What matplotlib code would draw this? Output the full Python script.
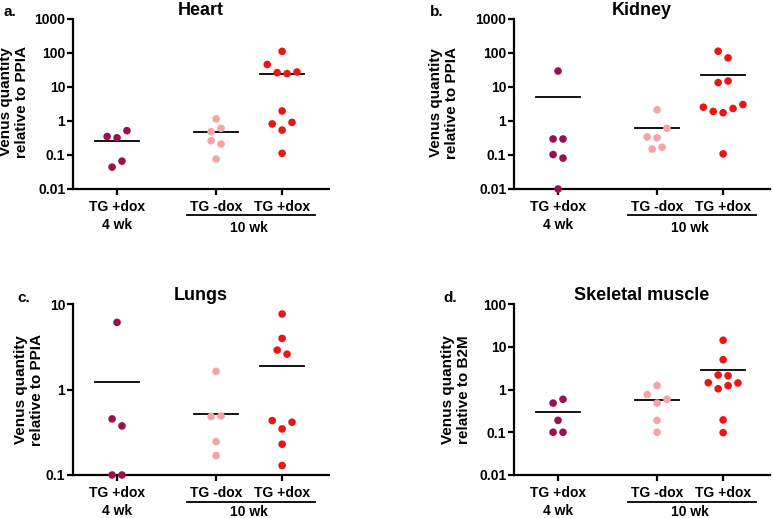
#!/usr/bin/env python3
# -*- coding: utf-8 -*-

import numpy as np
import matplotlib
matplotlib.use("Agg")
import matplotlib.pyplot as plt
from matplotlib.transforms import blended_transform_factory

plt.rcParams['font.family'] = ['Liberation Sans', 'DejaVu Sans']
plt.rcParams['font.weight'] = 'bold'

# each group: rows of points that sit side by side (left to right)
HEART_4WK = [[0.35, 0.32, 0.52], [0.044, 0.066]]
HEART_MINUS = [[1.15], [0.485, 0.61], [0.264, 0.21], [0.076]]
HEART_PLUS = [[112], [46, 26.4, 24.7, 27.6], [1.97], [0.82, 0.54, 0.91], [0.112]]
HEART_MEANS = [0.25, 0.47, 24.1]

KIDNEY_4WK = [[29.5], [0.296, 0.296], [0.103, 0.081], [0.01]]
KIDNEY_MINUS = [[2.14], [0.34, 0.32, 0.61], [0.15, 0.17]]
KIDNEY_PLUS = [[113, 72], [13.5, 15], [2.55, 1.91, 1.75, 2.33, 3.05], [0.108]]
KIDNEY_MEANS = [5.1, 0.63, 23.0]

LUNGS_4WK = [[6.1], [0.453, 0.375], [0.1, 0.1]]
LUNGS_MINUS = [[1.63], [0.483, 0.49], [0.246], [0.169]]
LUNGS_PLUS = [[7.64], [3.96], [2.89, 2.59], [0.433, 0.346, 0.414], [0.229], [0.129]]
LUNGS_MEANS = [1.21, 0.515, 1.86]

MUSCLE_4WK = [[0.48, 0.59], [0.19], [0.1, 0.1]]
MUSCLE_MINUS = [[1.24], [0.76, 0.48, 0.59], [0.19], [0.1]]
MUSCLE_PLUS = [[14.2], [4.98], [2.18, 2.1], [1.44, 1.04, 1.23, 1.42], [0.194], [0.098]]
MUSCLE_MEANS = [0.29, 0.57, 2.91]

CATEGORIES = ["TG +dox", "TG -dox", "TG +dox"]
XPOS = [0.0, 1.5, 2.5]
AGES = ["4 wk", "10 wk"]

TICKS_WIDE = [0.01, 0.1, 1, 10, 100, 1000]
TICKS_LUNGS = [0.1, 1, 10]
TICKS_MUSCLE = [0.01, 0.1, 1, 10, 100]

COLORS = ["#9a1050", "#f6a3a5", "#ef1414"]

TICKLBLSIZE = 10
AXISLBLSIZE = 11
TITLESIZE = 13

W, H = 773, 518


def px_axes(fig, left, top, right, bottom):
    return fig.add_axes([left / W, 1 - bottom / H, (right - left) / W, (bottom - top) / H])


def draw_panel(ax, groups, means, ticks, title, wk_y=-0.23):
    step = 0.15
    for x0, rows, mean, col in zip(XPOS, groups, means, COLORS):
        xs, ys = [], []
        for row in rows:
            n = len(row)
            for i, v in enumerate(row):
                xs.append(x0 + (i - (n - 1) / 2) * step)
                ys.append(v)
        ax.scatter(xs, ys, s=30, color=col, edgecolors='none', zorder=3, clip_on=False)
        ax.plot([x0 - 0.33, x0 + 0.33], [mean, mean], color='black', lw=1.3, zorder=2)

    ax.set_yscale('log')
    ax.set_ylim(ticks[0], ticks[-1])
    ax.set_yticks(ticks)
    ax.set_yticklabels([f'{t:g}' for t in ticks], size=TICKLBLSIZE, fontweight='bold')
    ax.yaxis.set_minor_locator(matplotlib.ticker.NullLocator())
    ax.set_xlim(-0.667, 3.21)
    ax.set_xticks(XPOS)
    ax.set_xticklabels(CATEGORIES, size=TICKLBLSIZE, fontweight='bold')

    for s in ['top', 'right']:
        ax.spines[s].set_visible(False)
    for s in ['left', 'bottom']:
        ax.spines[s].set_linewidth(1.6)
    ax.tick_params(axis='x', width=1.6, length=4, pad=4)
    ax.tick_params(axis='y', width=1.6, length=4, pad=1.5)
    ax.set_title(title, size=TITLESIZE, fontweight='bold', pad=2)

    tr = blended_transform_factory(ax.transData, ax.transAxes)
    ax.plot([1.06, 3.0], [-0.155, -0.155], color='black', lw=1.3, transform=tr, clip_on=False)
    ax.text(XPOS[0], -0.21, AGES[0], transform=tr, ha='center', va='center',
            size=TICKLBLSIZE, fontweight='bold')
    ax.text(2.0, wk_y, AGES[1], transform=tr, ha='center', va='center',
            size=TICKLBLSIZE, fontweight='bold')


def main():
    fig = plt.figure(figsize=(W / 100, H / 100), dpi=100)

    axa = px_axes(fig, 73, 19, 329, 189)
    axb = px_axes(fig, 514, 19, 770, 189)
    axc = px_axes(fig, 73, 304, 329, 475)
    axd = px_axes(fig, 514, 304, 770, 475)

    draw_panel(axa, [HEART_4WK, HEART_MINUS, HEART_PLUS], HEART_MEANS, TICKS_WIDE, "Heart")
    draw_panel(axb, [KIDNEY_4WK, KIDNEY_MINUS, KIDNEY_PLUS], KIDNEY_MEANS, TICKS_WIDE, "Kidney")
    draw_panel(axc, [LUNGS_4WK, LUNGS_MINUS, LUNGS_PLUS], LUNGS_MEANS, TICKS_LUNGS, "Lungs",
               wk_y=-0.215)
    draw_panel(axd, [MUSCLE_4WK, MUSCLE_MINUS, MUSCLE_PLUS], MUSCLE_MEANS, TICKS_MUSCLE,
               "Skeletal muscle", wk_y=-0.215)

    # y labels and panel letters, placed in pixels
    ylabels = [
        (14, 102, "Venus quantity\nrelative to PPIA"),
        (444, 103, "Venus quantity\nrelative to PPIA"),
        (29, 390, "Venus quantity\nrelative to PPIA"),
        (456, 390, "Venus quantity\nrelative to B2M"),
    ]
    for x, y, t in ylabels:
        fig.text(x / W, 1 - y / H, t, rotation=90, ha='center', va='center',
                 size=AXISLBLSIZE, fontweight='bold', linespacing=1.1)

    letters = [(4, 12, "a."), (430, 12, "b."), (17, 298, "c."), (443, 298, "d.")]
    for x, y, t in letters:
        fig.text(x / W, 1 - y / H, t, ha='left', va='center', size=11, fontweight='bold')

    fig.savefig("out.png", dpi=100)
    plt.close(fig)


if __name__ == "__main__":
    main()
